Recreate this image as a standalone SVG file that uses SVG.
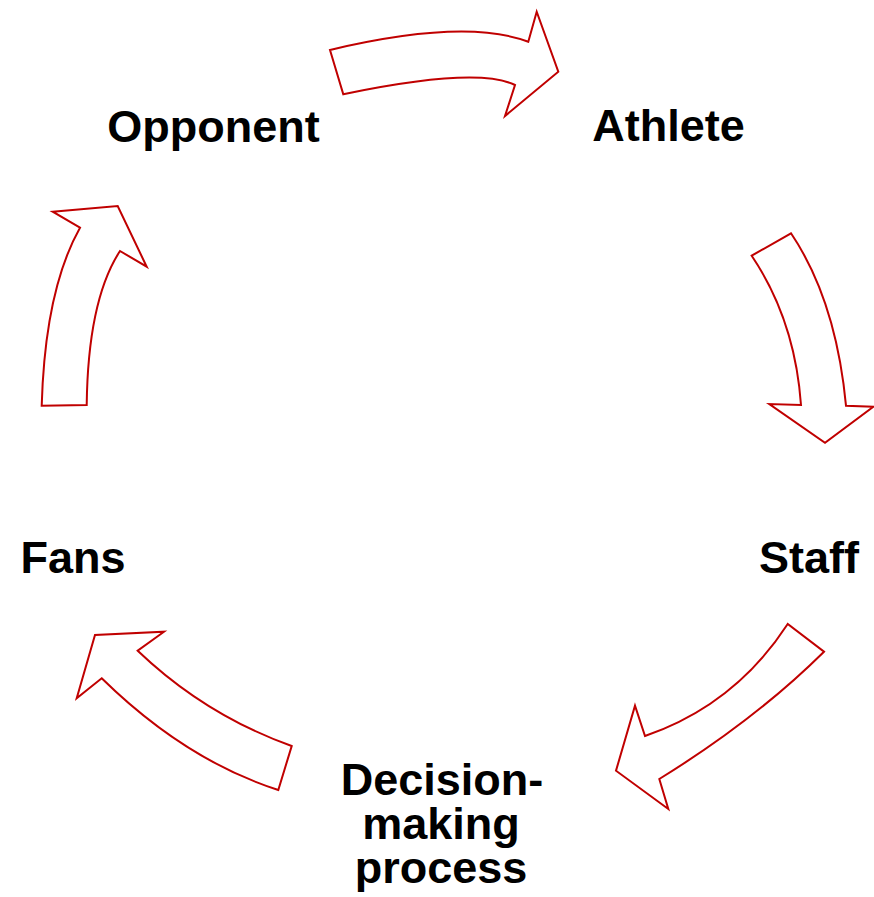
<svg xmlns="http://www.w3.org/2000/svg" width="874" height="897" viewBox="0 0 874 897">
<style>
.arr{fill:#ffffff;stroke:#c00000;stroke-width:2;stroke-linejoin:miter}
.lbl{font-family:"Liberation Sans",Arial,sans-serif;font-weight:bold;font-size:45px;fill:#000000;text-anchor:middle}
</style>
<rect width="874" height="897" fill="#ffffff"/>
<g id="connectors">
<path id="arrow-opponent-athlete" class="arr" d="M330,50 Q465,18 528.3,41.7 L536.7,11.7 L558.3,71.7 L505,116 L515,85 Q477,66.5 343.3,94.3 Z"/>
<path id="arrow-athlete-staff" class="arr" d="M791,233.3 Q836,300 846,405.7 L873.3,406.7 L825,442.7 L769.3,404 L801,405 Q795,320 751.7,255.7 Z"/>
<path id="arrow-staff-decision" class="arr" d="M824,651.7 Q755,720 659.3,779 L668.3,809 L616,770.7 L635,705.7 L645,736 Q735,705 787.7,624 Z"/>
<path id="arrow-decision-fans" class="arr" d="M278.3,790 Q185,760 101.7,678.3 L76.7,698.3 L95,635 L164,631.7 L137.7,650.7 Q205,715 291.7,746 Z"/>
<path id="arrow-fans-opponent" class="arr" d="M41.7,405.7 Q45,290 80,227.7 L52.7,211.7 L117.7,206 L146.7,266.7 L120,251 Q88,300 86.7,405 Z"/>
</g>
<g id="node-opponent"><text class="lbl" x="213.5" y="142">Opponent</text></g>
<g id="node-athlete"><text class="lbl" x="668.5" y="141">Athlete</text></g>
<g id="node-staff"><text class="lbl" x="809" y="573">Staff</text></g>
<g id="node-fans"><text class="lbl" x="73" y="573">Fans</text></g>
<g id="node-decision"><text class="lbl" x="442" y="795"><tspan x="442" y="795">Decision-</tspan><tspan x="441" y="839">making</tspan><tspan x="441" y="883">process</tspan></text></g>
</svg>
